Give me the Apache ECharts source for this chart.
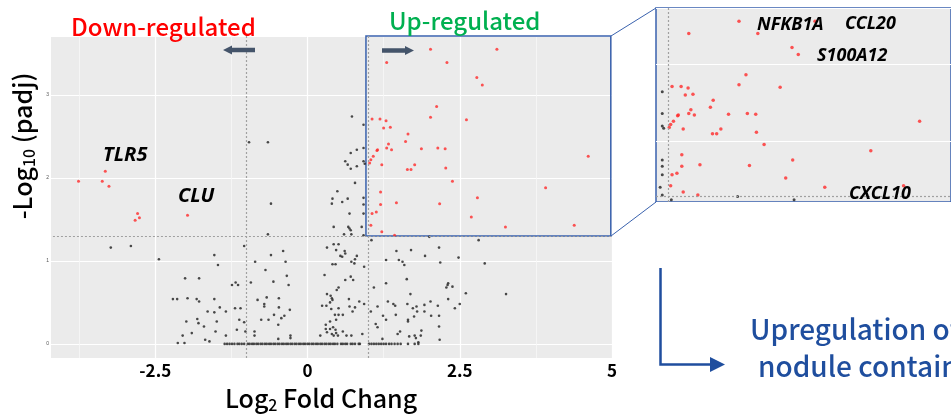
<!DOCTYPE html>
<html>
<head>
<meta charset="utf-8">
<script src="https://cdn.jsdelivr.net/npm/echarts@6.0.0/dist/echarts.min.js"></script>
<style>
  html, body { margin: 0; padding: 0; background: #fff; }
  #chart { width: 951px; height: 419px; }
</style>
</head>
<body>
<div id="chart"></div>
<script>
// [log2 fold change, -log10(padj)]
const upRegulated = [
  [2.02, 3.55], [3.11, 3.55], [1.30, 3.39], [2.29, 3.39], [2.78, 3.21], [2.87, 3.12],
  [2.12, 2.86], [2.02, 2.73], [2.61, 2.70], [1.06, 2.71], [1.19, 2.71], [1.29, 2.69],
  [1.25, 2.60], [1.36, 2.61], [1.65, 2.53], [1.61, 2.44], [1.33, 2.41], [1.30, 2.36],
  [1.38, 2.34], [1.15, 2.34], [1.14, 2.33], [1.87, 2.35], [2.14, 2.36], [2.26, 2.35],
  [1.08, 2.26], [1.04, 2.22], [1.02, 2.18], [1.22, 2.16], [1.76, 2.16], [1.64, 2.10],
  [1.70, 2.10], [2.27, 2.12], [2.38, 1.96], [1.20, 1.83], [2.79, 1.76], [1.46, 1.70],
  [2.17, 1.69], [1.20, 1.68], [1.06, 1.57], [1.13, 1.59], [2.69, 1.53], [1.04, 1.43],
  [1.22, 1.35], [1.43, 1.31], [4.61, 2.26], [3.91, 1.88], [3.25, 1.41], [4.38, 1.43]
];
const downRegulated = [
  [-3.32, 2.08], [-3.76, 1.96], [-3.37, 1.96], [-3.26, 1.90],
  [-2.79, 1.57], [-2.76, 1.52], [-2.83, 1.49], [-1.97, 1.55]
];
const notSignificant = [
  [-0.96, 2.43], [-0.65, 2.43], [-0.60, 1.69], [-0.65, 1.32], [-3.23, 1.16], [-2.90, 1.18],
  [-2.44, 1.02], [-1.04, 1.18], [-1.53, 1.07], [-1.47, 0.95], [-2.01, 0.79], [-1.78, 0.79],
  [-1.24, 0.71], [-1.18, 0.74], [-1.14, 0.71], [-0.93, 0.74], [-0.86, 0.99], [-0.60, 1.07],
  [-0.40, 1.12], [-0.36, 0.99], [-0.69, 0.89], [-0.34, 0.82], [-0.56, 0.75], [-0.31, 0.71],
  [-2.21, 0.54], [-2.14, 0.54], [-1.97, 0.55], [-1.82, 0.54], [-1.78, 0.51], [-1.53, 0.54],
  [-1.44, 0.44], [-1.64, 0.39], [-1.53, 0.38], [-1.34, 0.39], [-1.19, 0.43], [-1.10, 0.43],
  [-0.82, 0.53], [-0.67, 0.56], [-0.71, 0.48], [-0.71, 0.45], [-0.47, 0.55], [-0.47, 0.44],
  [-0.29, 0.41], [-1.99, 0.27], [-1.81, 0.30], [-1.79, 0.25], [-1.70, 0.21], [-1.49, 0.27],
  [-1.90, 0.13], [-1.51, 0.15], [-2.05, 0.10], [-1.68, 0.05], [-1.61, 0.03], [-1.12, 0.29],
  [-1.04, 0.26], [-1.16, 0.17], [-1.02, 0.15], [-0.87, 0.15], [-0.87, 0.10], [-0.76, 0.29],
  [-0.64, 0.29], [-0.55, 0.35], [-0.43, 0.31], [-0.38, 0.34], [-0.48, 0.23], [-0.28, 0.10],
  [-0.28, 0.07], [-0.48, 0.06], [-1.34, 0.10], [-2.13, 0.01], [-2.02, 0.01],
  [0.73, 2.74], [0.81, 2.34], [0.71, 2.30], [0.62, 2.20], [0.66, 2.16], [0.71, 2.11],
  [0.81, 2.14], [0.92, 2.64], [0.92, 2.36], [0.92, 2.20], [0.94, 2.17], [0.92, 1.76],
  [0.92, 1.68], [0.92, 1.57], [0.92, 1.31], [0.78, 1.94], [0.49, 1.84], [0.41, 1.75],
  [0.40, 1.69], [0.57, 1.71], [0.66, 1.75], [0.69, 1.57], [0.43, 1.41], [0.67, 1.41],
  [0.69, 1.39], [0.71, 1.37], [0.60, 1.32], [0.72, 1.32], [0.89, 1.41],
  [0.32, 1.16], [0.43, 1.20], [0.51, 1.20], [0.47, 1.13], [0.54, 1.06], [0.61, 1.12],
  [0.62, 1.09], [0.81, 1.06], [0.78, 1.02], [0.57, 1.05], [0.72, 0.99], [0.77, 0.97],
  [0.41, 0.96], [0.46, 0.96], [0.93, 0.93], [0.28, 0.83], [0.71, 0.81], [0.75, 0.77],
  [0.62, 0.77], [0.51, 0.68], [0.48, 0.65], [0.32, 0.60], [0.38, 0.58], [0.40, 0.55],
  [0.37, 0.50], [0.41, 0.53], [0.24, 0.46], [0.31, 0.46], [0.39, 0.42], [0.51, 0.43],
  [0.68, 0.54], [0.69, 0.45], [0.78, 0.44], [0.74, 0.39], [0.85, 0.51], [0.93, 0.48],
  [0.45, 0.35], [0.51, 0.35], [0.58, 0.35], [0.37, 0.27], [0.47, 0.29], [0.30, 0.23],
  [0.30, 0.18], [0.32, 0.14], [0.37, 0.18], [0.42, 0.20], [0.46, 0.17], [0.47, 0.13],
  [0.43, 0.10], [0.40, 0.12], [0.21, 0.10], [0.50, 0.10], [0.58, 0.15], [0.64, 0.10],
  [0.72, 0.10], [0.90, 0.12],
  [1.05, 1.25], [2.00, 1.29], [2.81, 1.25], [1.46, 1.12], [1.70, 1.13], [2.16, 1.16],
  [1.29, 1.01], [1.50, 1.01], [1.56, 0.99], [1.59, 0.95], [1.93, 1.06], [2.18, 0.98],
  [2.48, 1.04], [2.91, 0.97], [1.63, 0.78], [1.09, 0.68], [1.29, 0.73], [2.31, 0.73],
  [2.30, 0.71], [2.28, 0.68], [2.38, 0.69], [2.60, 0.61], [3.26, 0.60], [1.69, 0.60],
  [1.15, 0.45], [1.04, 0.39], [1.32, 0.51], [1.41, 0.48], [1.44, 0.46], [1.64, 0.48],
  [1.73, 0.43], [1.79, 0.45], [1.92, 0.47], [2.02, 0.51], [2.14, 0.46], [2.31, 0.54],
  [2.42, 0.43], [2.50, 0.48], [1.24, 0.34], [1.29, 0.29], [1.45, 0.35], [1.65, 0.29],
  [1.65, 0.27], [1.75, 0.33], [1.80, 0.39], [1.92, 0.39], [2.03, 0.34], [2.16, 0.34],
  [2.16, 0.21], [1.12, 0.24], [1.15, 0.20], [1.52, 0.15], [1.48, 0.12], [1.87, 0.16],
  [1.86, 0.10], [1.67, 0.09], [1.76, 0.10], [1.78, 0.07], [2.17, 0.05], [1.23, 0.06],
  [1.82, 0.02]
];
// fold changes of the genes sitting on the padj = 1 row
const baselineFC = [
  -1.36, -1.32, -1.28, -1.24, -1.20, -1.15, -1.12, -1.08, -1.04,
  -0.98, -0.95, -0.91, -0.88, -0.84, -0.81, -0.77, -0.74, -0.70, -0.67, -0.63, -0.60,
  -0.56, -0.53, -0.49, -0.46, -0.42, -0.39, -0.35, -0.32, -0.28, -0.25, -0.21, -0.18,
  -0.14, -0.11, -0.07, -0.04, 0.00, 0.03, 0.07, 0.10, 0.14, 0.17, 0.21, 0.24, 0.28,
  0.31, 0.35, 0.38, 0.42, 0.45, 0.49, 0.55, 0.58, 0.62, 0.65, 0.71, 0.74, 0.78, 0.84,
  0.86, 1.01, 1.05, 1.09, 1.13, 1.17, 1.21, 1.25, 1.29, 1.34, 1.38, 1.43, 1.48, 1.53,
  1.65, 1.76, 1.82
];

const xTicks = [-2.5, 0, 2.5, 5];
const yTicks = [0, 1, 2, 3];
const fcCutoff = 1;
const padjCutoff = 1.3;
const zoomX = [0.96, 4.98];
const zoomY = [1.3, 3.71];

const nsData = notSignificant.concat(baselineFC.map(function (x) { return [x, 0]; }));

const BLUE = '#3A62AE';
const SLATE = '#44546A';
const GRID_BG = '#EBEBEB';
const TITLE_FONT = '"Noto Sans CJK KR", "Noto Sans", sans-serif';

function annot(text, x, y, size) {
  return {
    type: 'text', x: x, y: y, z: 20,
    style: {
      text: text, fill: '#000',
      font: 'italic bold ' + size + 'px "Noto Sans", sans-serif',
      align: 'left', verticalAlign: 'middle',
      textAlign: 'left', textVerticalAlign: 'middle'
    }
  };
}

function plainText(text, x, y, size, color) {
  return {
    type: 'text', x: x, y: y, z: 20,
    style: {
      text: text, fill: color,
      font: '500 ' + size + 'px ' + TITLE_FONT,
      align: 'left', verticalAlign: 'middle',
      textAlign: 'left', textVerticalAlign: 'middle'
    }
  };
}

const dashed = { color: '#a0a0a0', type: [2, 2], width: 1.2 };
const titleRich = {
  m: { fontSize: 25, fontWeight: 500, fontFamily: TITLE_FONT, lineHeight: 30 },
  s: { fontSize: 16, fontWeight: 500, fontFamily: TITLE_FONT, lineHeight: 18, verticalAlign: 'bottom' }
};

const option = {
  animation: false,
  backgroundColor: '#fff',
  grid: [
    { left: 1, top: 36, width: 611, height: 322, show: false },
    { left: 656, top: 8, width: 320, height: 194, show: true,
      backgroundColor: GRID_BG, borderColor: BLUE, borderWidth: 1.5 }
  ],
  xAxis: [
    {
      gridIndex: 0, type: 'value', min: -5, max: 5, interval: 2.5,
      axisLine: { show: false }, axisTick: { show: false },
      axisLabel: {
        margin: 4, color: '#000', fontSize: 17, fontWeight: 'bold', fontFamily: TITLE_FONT,
        formatter: function (v) { return xTicks.indexOf(v) >= 0 ? String(v) : ''; }
      },
      splitLine: { show: true, lineStyle: { color: '#fff', width: 1.2 } },
      minorTick: { show: false, splitNumber: 2 },
      minorSplitLine: { show: true, lineStyle: { color: '#f7f7f7', width: 0.8 } }
    },
    {
      gridIndex: 1, type: 'value', min: 0.83, max: 5.06,
      axisLine: { show: false }, axisTick: { show: false }, axisLabel: { show: false },
      splitLine: { show: false }
    }
  ],
  yAxis: [
    {
      gridIndex: 0, type: 'value', min: -0.17, max: 3.71, offset: -48,
      axisLine: { show: false }, axisTick: { show: false },
      axisLabel: {
        margin: 2, fontSize: 5, color: '#555',
        formatter: function (v) { return yTicks.indexOf(v) >= 0 ? String(v) : ''; }
      },
      splitLine: { show: true, lineStyle: { color: '#fff', width: 1.2 } }
    },
    {
      gridIndex: 1, type: 'value', min: 1.22, max: 3.72, splitNumber: 2,
      axisLine: { show: false }, axisTick: { show: false }, axisLabel: { show: false },
      splitLine: { show: true, lineStyle: { color: '#fff', width: 1.2 } }
    }
  ],
  series: [
    {
      type: 'scatter', xAxisIndex: 0, yAxisIndex: 0, data: nsData,
      symbolSize: 2.6, itemStyle: { color: '#2a2a2a', opacity: 0.85 }, z: 3,
      markLine: {
        silent: true, symbol: 'none', label: { show: false }, lineStyle: dashed,
        data: [
          { xAxis: -fcCutoff }, { xAxis: fcCutoff },
          [{ coord: [-4.18, padjCutoff] }, { coord: [5, padjCutoff] }]
        ]
      }
    },
    {
      type: 'scatter', xAxisIndex: 0, yAxisIndex: 0, data: downRegulated,
      symbolSize: 3, itemStyle: { color: '#ff2b2b' }, z: 4
    },
    {
      type: 'scatter', xAxisIndex: 0, yAxisIndex: 0, data: upRegulated,
      symbolSize: 3, itemStyle: { color: '#ff2b2b' }, z: 4,
      markArea: {
        silent: true,
        itemStyle: { color: 'rgba(0,0,0,0)', borderColor: BLUE, borderWidth: 1.5 },
        data: [[{ coord: [zoomX[0], zoomY[0]] }, { coord: [zoomX[1], zoomY[1]] }]]
      }
    },
    {
      type: 'scatter', xAxisIndex: 1, yAxisIndex: 1, data: nsData,
      symbolSize: 3, itemStyle: { color: '#2a2a2a', opacity: 0.85 }, z: 3,
      markLine: {
        silent: true, symbol: 'none', label: { show: false }, lineStyle: dashed,
        data: [{ xAxis: fcCutoff }, { yAxis: padjCutoff }]
      }
    },
    {
      type: 'scatter', xAxisIndex: 1, yAxisIndex: 1, data: upRegulated,
      symbolSize: 3.5, itemStyle: { color: '#ff2b2b' }, z: 4
    }
  ],
  graphic: [
    // ggplot panel background of the main plot
    { type: 'rect', z: -1, silent: true,
      shape: { x: 51, y: 36, width: 562, height: 322 }, style: { fill: GRID_BG } },
    // zoom connectors
    { type: 'line', z: 10, shape: { x1: 611, y1: 36, x2: 656, y2: 8 },
      style: { stroke: BLUE, lineWidth: 1 } },
    { type: 'line', z: 10, shape: { x1: 611, y1: 236, x2: 656, y2: 202 },
      style: { stroke: BLUE, lineWidth: 1 } },
    // direction arrows
    { type: 'polygon', z: 10,
      shape: { points: [[223, 50], [232, 45.5], [232, 47.7], [255, 47.7], [255, 52.3], [232, 52.3], [232, 54.5]] },
      style: { fill: SLATE } },
    { type: 'polygon', z: 10,
      shape: { points: [[414, 50.5], [405, 46], [405, 48.2], [382, 48.2], [382, 52.8], [405, 52.8], [405, 55]] },
      style: { fill: SLATE } },
    plainText('Down-regulated', 71, 27, 24, '#FF0000'),
    plainText('Up-regulated', 389, 21, 24, '#00B050'),
    annot('TLR5', 103, 155, 20),
    annot('CLU', 178, 196, 20),
    annot('NFKB1A', 757, 25, 18),
    annot('CCL20', 845, 24, 18),
    annot('S100A12', 817, 56, 18),
    annot('CXCL10', 849, 194, 18),
    // axis titles
    { type: 'text', x: 22, y: 146, rotation: Math.PI / 2, z: 20,
      style: {
        text: '{m|-Log}{s|10}{m| (padj)}', fill: '#000',
        align: 'center', verticalAlign: 'middle', textAlign: 'center', textVerticalAlign: 'middle',
        rich: titleRich
      } },
    { type: 'text', x: 321, y: 398, z: 20,
      style: {
        text: '{m|Log}{s|2}{m| Fold Chang}', fill: '#000',
        align: 'center', verticalAlign: 'middle', textAlign: 'center', textVerticalAlign: 'middle',
        rich: titleRich
      } },
    // bent arrow to the conclusion
    { type: 'polyline', z: 10,
      shape: { points: [[660.5, 268], [660.5, 364.5], [712, 364.5]] },
      style: { stroke: '#1F4E9E', lineWidth: 2.5, fill: null } },
    { type: 'polygon', z: 10,
      shape: { points: [[725, 364.5], [710, 357], [710, 372]] },
      style: { fill: '#1F4E9E' } },
    plainText('Upregulation of', 750, 329, 28, '#1F4E9E'),
    plainText('nodule containing', 758, 366, 28, '#1F4E9E')
  ]
};

const chart = echarts.init(document.getElementById('chart'));
chart.setOption(option);
window.addEventListener('resize', function () { chart.resize(); });
</script>
</body>
</html>
